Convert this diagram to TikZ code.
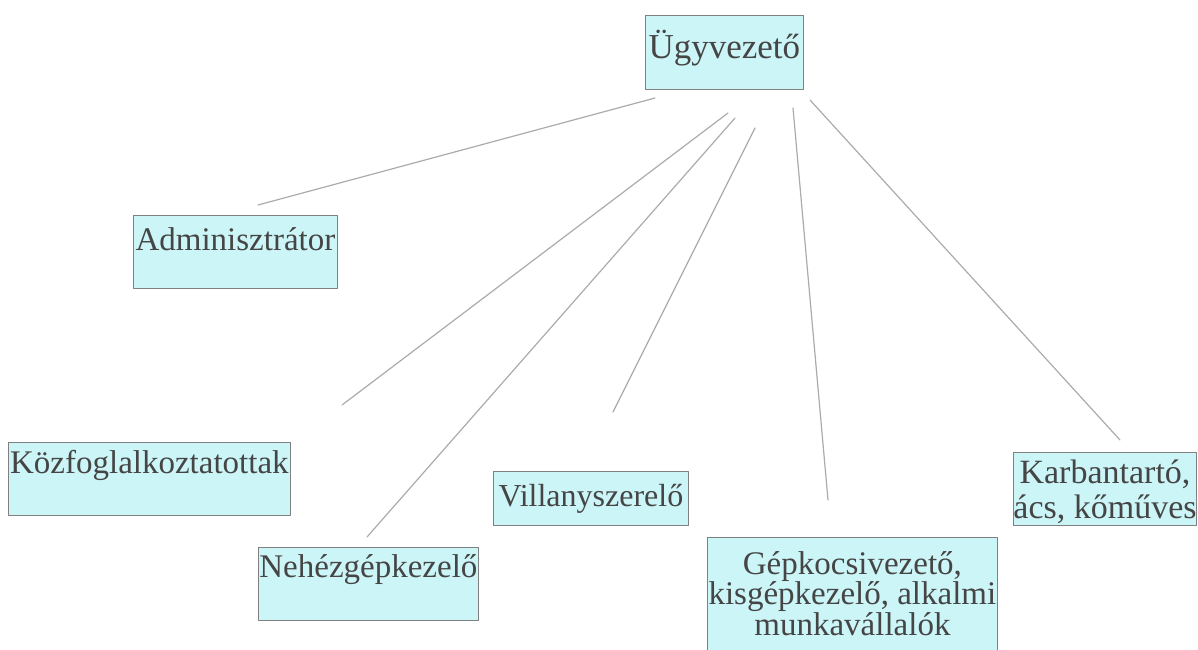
\documentclass[tikz,border=0pt]{standalone}
\usepackage{fontspec}
\setmainfont{Liberation Serif}
\usetikzlibrary{calc}
\definecolor{ccf5f8}{rgb}{0.8,0.96,0.97}
\definecolor{aaaaaa}{rgb}{0.67,0.67,0.67}
\definecolor{sqsqsq}{rgb}{0.5,0.5,0.5}
\definecolor{tttttt}{rgb}{0.27,0.27,0.27}
\tikzstyle{every node}=[font=\fontsize{33}{30}\selectfont, text=tttttt]
\tikzstyle{unit}=[draw=sqsqsq, line width=0.8pt, fill=ccf5f8, anchor=north west, inner sep=0pt, align=center]
\tikzstyle{link}=[line width=1.2pt, color=aaaaaa]

\begin{document}
\begin{tikzpicture}[line cap=round,line join=round,x=1pt,y=-1pt]
    \useasboundingbox (0,0) rectangle (1198,649);
    \clip (0,0) rectangle (1198,649);
    \node[unit, minimum width=158pt, text height=43pt, text depth=31pt, font=\fontsize{35}{30}\selectfont] (boss) at (645,15) {Ügyvezető};
    \node[unit, minimum width=204pt, text height=35pt, text depth=38pt] (admin) at (133,215) {Adminisztrátor};
    \node[unit, minimum width=282pt, text height=31pt, text depth=42pt] (kozf) at (8,442) {Közfoglalkoztatottak};
    \node[unit, minimum width=220pt, text height=30pt, text depth=43pt] (nehez) at (258,547) {Nehézgépkezelő};
    \node[unit, minimum width=195pt, text height=35pt, text depth=19pt, font=\fontsize{32}{30}\selectfont] (villany) at (493,471) {Villanyszerelő};
    \node[unit, minimum width=290pt, text height=98pt, text depth=25pt] (gepk) at (707,537) {Gépkocsivezető,\\kisgépkezelő, alkalmi\\munkavállalók};
    \node[unit, minimum width=182pt, text height=66pt, text depth=7pt, font=\fontsize{34}{35}\selectfont] (karb) at (1013,452) {Karbantartó,\\ács, kőműves};
    % free ends of the lines
    \coordinate (e1) at (655,98);
    \coordinate (e2) at (728,113);
    \coordinate (e3) at (735,118);
    \coordinate (e4) at (755,128);
    \coordinate (e5) at (793,108);
    \coordinate (e6) at (810,100);
    \coordinate (f1) at (258,205);
    \coordinate (f2) at (342,405);
    \coordinate (f3) at (367,537);
    \coordinate (f4) at (613,412);
    \coordinate (f5) at (828,500);
    \coordinate (f6) at (1120,440);
    \draw [link] (e1)-- (f1);
    \draw [link] (e2)-- (f2);
    \draw [link] (e3)-- (f3);
    \draw [link] (e4)-- (f4);
    \draw [link] (e5)-- (f5);
    \draw [link] (e6)-- (f6);
\end{tikzpicture}
\end{document}
